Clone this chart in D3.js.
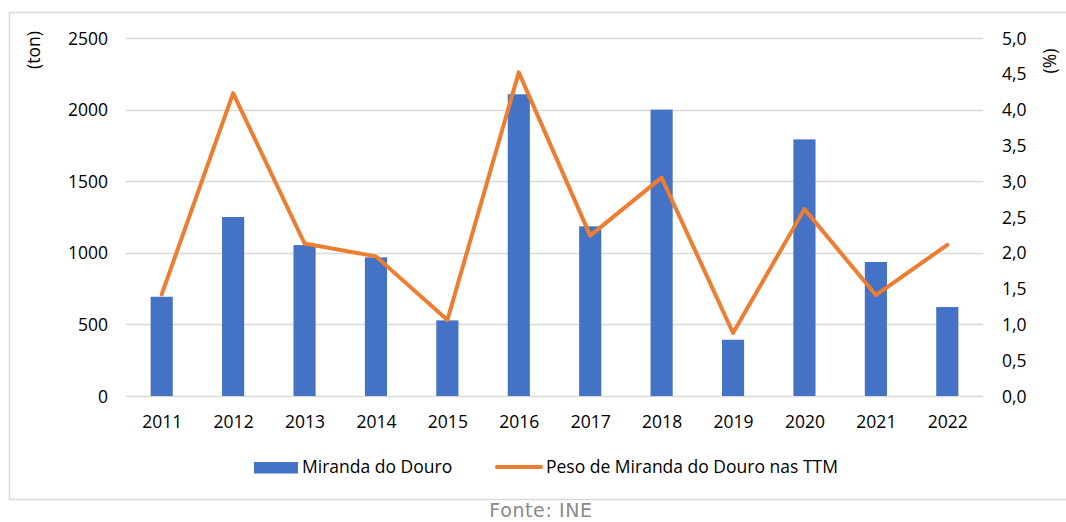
<!DOCTYPE html>
<html>
<head>
<meta charset="utf-8">
<script src="https://cdn.jsdelivr.net/npm/d3@7"></script>
<style>
  html, body { margin: 0; padding: 0; background: #fff; }
</style>
</head>
<body>
<div id="chart"></div>
<script>
// Data.
const years = ["2011", "2012", "2013", "2014", "2015", "2016", "2017", "2018", "2019", "2020", "2021", "2022"];
const tons = [693, 1250, 1054, 968, 528, 2107, 1185, 2000, 393, 1792, 936, 621];
const share = [1.42, 4.23, 2.13, 1.95, 1.06, 4.52, 2.24, 3.05, 0.88, 2.61, 1.41, 2.11];
const leftTicks = [0, 500, 1000, 1500, 2000, 2500];
const rightTicks = [0, 0.5, 1, 1.5, 2, 2.5, 3, 3.5, 4, 4.5, 5];
const barLabel = "Miranda do Douro";
const lineLabel = "Peso de Miranda do Douro nas TTM";
const source = "Fonte: INE";

/**
 * Layout.
 */
const width = 1066;
const height = 522;
const plot = { left: 126, right: 983, top: 38, bottom: 396 };
const font = "'Open Sans', 'Noto Sans', sans-serif";
const fontSize = 17.5;
const blue = "#4472c4";
const orange = "#ed7d31";
const grid = "#d9d9d9";

const svg = d3.select("#chart")
  .append("svg")
  .attr("width", width)
  .attr("height", height)
  .attr("font-family", font);

// Chart frame (right edge runs past the window).
svg.append("rect")
  .attr("x", 9.5)
  .attr("y", 12.5)
  .attr("width", 1070)
  .attr("height", 487)
  .attr("fill", "none")
  .attr("stroke", grid)
  .attr("stroke-width", 1.5);

/**
 * Scales.
 */
const x = d3.scaleBand()
  .domain(years)
  .range([plot.left, plot.right])
  .paddingInner(0.69)
  .paddingOuter(0.345);

const xc = d3.scalePoint()
  .domain(years)
  .range([plot.left, plot.right])
  .padding(0.5);

const yLeft = d3.scaleLinear()
  .domain([0, 2500])
  .range([plot.bottom, plot.top]);

const yRight = d3.scaleLinear()
  .domain([0, 5])
  .range([plot.bottom, plot.top]);

// Gridlines.
svg.append("g")
  .selectAll("line")
  .data(leftTicks)
  .join("line")
  .attr("x1", plot.left)
  .attr("x2", plot.right)
  .attr("y1", (d) => Math.round(yLeft(d)) + 0.5)
  .attr("y2", (d) => Math.round(yLeft(d)) + 0.5)
  .attr("stroke", grid)
  .attr("stroke-width", 1.3);

// Left axis labels.
const leftAxis = svg.append("g")
  .attr("transform", `translate(${plot.left - 18},0)`)
  .call(d3.axisLeft(yLeft).tickValues(leftTicks).tickFormat(d3.format("d")).tickSize(0).tickPadding(0));
leftAxis.select(".domain").remove();
leftAxis.selectAll("text")
  .attr("font-family", font)
  .attr("font-size", fontSize)
  .attr("fill", "#000")
  .attr("dy", "0.35em");

// Right axis labels.
const fmt = (d) => d3.format(".1f")(d).replace(".", ",");
const rightAxis = svg.append("g")
  .attr("transform", `translate(${plot.right + 19},0)`)
  .call(d3.axisRight(yRight).tickValues(rightTicks).tickFormat(fmt).tickSize(0).tickPadding(0));
rightAxis.select(".domain").remove();
rightAxis.selectAll("text")
  .attr("font-family", font)
  .attr("font-size", fontSize)
  .attr("fill", "#000")
  .attr("dy", "0.35em");

// Category labels.
const xAxis = svg.append("g")
  .attr("transform", `translate(0,${plot.bottom})`)
  .call(d3.axisBottom(xc).tickSize(0).tickPadding(0));
xAxis.select(".domain").remove();
xAxis.selectAll("text")
  .attr("font-family", font)
  .attr("font-size", fontSize)
  .attr("fill", "#000")
  .attr("dy", 0)
  .attr("y", 32);

// Axis titles.
svg.append("text")
  .attr("transform", "translate(40,50) rotate(-90)")
  .attr("text-anchor", "middle")
  .attr("font-size", fontSize)
  .text("(ton)");

svg.append("text")
  .attr("transform", "translate(1056,61) rotate(-90)")
  .attr("text-anchor", "middle")
  .attr("font-size", fontSize)
  .text("(%)");

/**
 * Marks.
 */
// Bars.
svg.append("g")
  .selectAll("rect")
  .data(years)
  .join("rect")
  .attr("x", (d) => x(d))
  .attr("width", x.bandwidth())
  .attr("y", (d, i) => yLeft(tons[i]))
  .attr("height", (d, i) => yLeft(0) - yLeft(tons[i]))
  .attr("fill", blue);

// Share line.
const line = d3.line()
  .x((d, i) => xc(years[i]))
  .y((d) => yRight(d));

svg.append("path")
  .datum(share)
  .attr("d", line)
  .attr("fill", "none")
  .attr("stroke", orange)
  .attr("stroke-width", 4)
  .attr("stroke-linejoin", "round")
  .attr("stroke-linecap", "round");

/**
 * Legend.
 */
svg.append("rect")
  .attr("x", 254)
  .attr("y", 462)
  .attr("width", 44)
  .attr("height", 11.5)
  .attr("fill", blue);

svg.append("text")
  .attr("x", 302)
  .attr("y", 473)
  .attr("font-size", fontSize)
  .text(barLabel);

svg.append("line")
  .attr("x1", 497)
  .attr("x2", 541)
  .attr("y1", 467)
  .attr("y2", 467)
  .attr("stroke", orange)
  .attr("stroke-width", 4)
  .attr("stroke-linecap", "round");

svg.append("text")
  .attr("x", 546)
  .attr("y", 473)
  .attr("font-size", fontSize)
  .text(lineLabel);

// Source.
svg.append("text")
  .attr("x", 541)
  .attr("y", 517)
  .attr("text-anchor", "middle")
  .attr("font-family", "'DejaVu Sans', Verdana, sans-serif")
  .attr("font-size", 19)
  .attr("letter-spacing", 0.6)
  .attr("fill", "#8a8a8a")
  .text(source);
</script>
</body>
</html>
